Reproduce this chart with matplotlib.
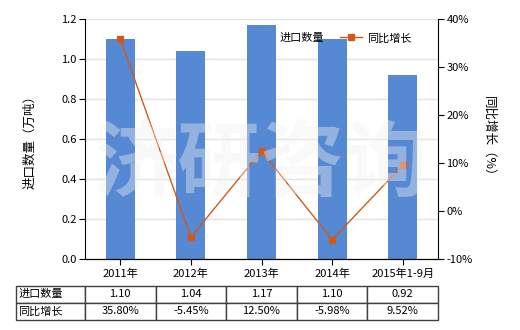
import matplotlib
matplotlib.use("Agg")
import matplotlib.pyplot as plt
import numpy as np

plt.rcParams['font.family'] = ['Noto Sans CJK SC', 'DejaVu Sans']
plt.rcParams['font.size'] = 8

# data
categories = ['2011年', '2012年', '2013年', '2014年', '2015年1-9月']
qty = [1.10, 1.04, 1.17, 1.10, 0.92]
growth = [35.80, -5.45, 12.50, -5.98, 9.52]
qty_labels = ['1.10', '1.04', '1.17', '1.10', '0.92']
growth_labels = ['35.80%', '-5.45%', '12.50%', '-5.98%', '9.52%']

bar_color = '#5589D3'
line_color = '#D05A1C'

fig = plt.figure(figsize=(5.2, 3.3), dpi=100)
ax = fig.add_axes([85 / 520, 71 / 330, 353 / 520, 240 / 330])
x = np.arange(len(categories))

ax.bar(x, qty, width=0.41, color=bar_color, zorder=2, label='进口数量')
ax.set_xlim(-0.5, len(categories) - 0.5)
ax.set_ylim(0, 1.2)
ax.set_yticks(np.arange(0, 1.21, 0.2))
ax.set_yticklabels(['%.1f' % v for v in np.arange(0, 1.21, 0.2)])
ax.grid(axis='y', color='#E3E3E3', linewidth=1, zorder=0)
ax.set_xticks(x)
ax.set_xticklabels(categories)
ax.tick_params(axis='x', length=4, pad=3)
ax.tick_params(axis='y', length=4, pad=2)
ax.spines['top'].set_visible(False)
ax.spines['right'].set_visible(False)
ax.set_ylabel('进口数量（万吨）', labelpad=18, fontsize=9)

ax2 = ax.twinx()
ax2.plot(x, growth, color=line_color, linewidth=1, marker='s', markersize=5,
         zorder=3, label='同比增长')
ax2.set_ylim(-10, 40)
ax2.set_yticks(np.arange(-10, 41, 10))
ax2.set_yticklabels(['%d%%' % v for v in np.arange(-10, 41, 10)])
ax2.tick_params(axis='y', length=4, pad=2)
ax2.spines['top'].set_visible(False)
ax2.spines['left'].set_visible(False)
ax2.set_ylabel('同比增长（%）', rotation=-90, labelpad=16, fontsize=9)

# watermark
ax2.text(0.5, 0.39, '济研咨询', transform=ax2.transAxes, fontsize=60,
         color='#F2F2F2', alpha=0.4, ha='center', va='center',
         fontweight='bold', zorder=10)

h1, l1 = ax.get_legend_handles_labels()
h2, l2 = ax2.get_legend_handles_labels()
ax2.legend(h1 + h2, l1 + l2, loc='upper left', bbox_to_anchor=(0.46, 0.96),
           ncol=2, frameon=False, handlelength=2.0, handletextpad=0.5,
           columnspacing=1.4, borderaxespad=0, fontsize=8)

# data table
cell_text = [['进口数量'] + qty_labels, ['同比增长'] + growth_labels]
w0 = 69 / 353
tbl = ax.table(cellText=cell_text, cellLoc='center',
               colWidths=[w0] + [0.2] * 5,
               bbox=[-w0, -0.254, 1 + w0, 0.142])
tbl.auto_set_font_size(False)
tbl.set_fontsize(8)
for (r, c), cell in tbl.get_celld().items():
    cell.set_edgecolor('#404040')
    cell.set_linewidth(1)
    if c == 0:
        cell._loc = 'left'
        cell.PAD = 0.03
        cell.get_text().set_horizontalalignment('left')

fig.savefig('out.png', dpi=100)
